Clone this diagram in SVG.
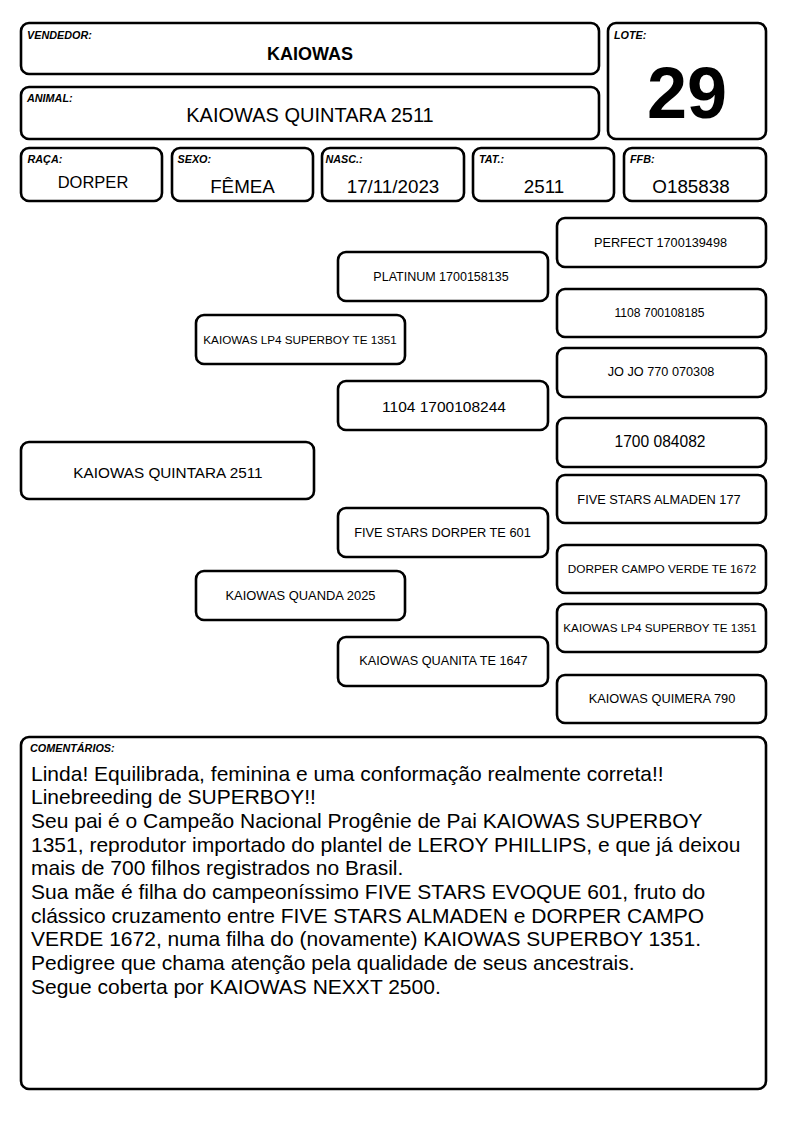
<svg xmlns="http://www.w3.org/2000/svg" width="794" height="1123" viewBox="0 0 794 1123">
<style>
.b{fill:#fff;stroke:#000;stroke-width:2.6}
.lb{font-family:"Liberation Sans",Arial,sans-serif;font-weight:bold;font-style:italic;font-size:10.8px;fill:#000}
.t{font-family:"Liberation Sans",Arial,sans-serif;fill:#000;text-anchor:middle}
.c{font-family:"Liberation Sans",Arial,sans-serif;fill:#000;font-size:21px}
</style>
<rect width="794" height="1123" fill="#fff"/>
<g id="vendedor"><rect class="b" x="21" y="23" width="578" height="51" rx="8"/><text class="lb" x="27" y="38.5">VENDEDOR:</text><text class="t" x="310" y="60" font-size="18" font-weight="bold">KAIOWAS</text></g>
<g id="animal"><rect class="b" x="21" y="87" width="578" height="52" rx="8"/><text class="lb" x="27" y="102.3">ANIMAL:</text><text class="t" x="310" y="122" font-size="20">KAIOWAS QUINTARA 2511</text></g>
<g id="lote"><rect class="b" x="608" y="23" width="158" height="116" rx="8"/><text class="lb" x="614" y="38.5">LOTE:</text><text class="t" x="687" y="118" font-size="72" font-weight="bold">29</text></g>
<g id="raca"><rect class="b" x="21" y="148" width="141" height="53" rx="8"/><text class="lb" x="27.5" y="163.3">RAÇA:</text><text class="t" x="93" y="188" font-size="16.5">DORPER</text></g>
<g id="sexo"><rect class="b" x="172" y="148" width="141" height="53" rx="8"/><text class="lb" x="177.5" y="163.3">SEXO:</text><text class="t" x="242.5" y="193.3" font-size="18.8">FÊMEA</text></g>
<g id="nasc"><rect class="b" x="322" y="148" width="142" height="53" rx="8"/><text class="lb" x="325.5" y="163.3">NASC.:</text><text class="t" x="393" y="193.3" font-size="18.8">17/11/2023</text></g>
<g id="tat"><rect class="b" x="473" y="148" width="141" height="53" rx="8"/><text class="lb" x="479" y="163.3">TAT.:</text><text class="t" x="544" y="193.3" font-size="18.8">2511</text></g>
<g id="ffb"><rect class="b" x="624" y="148" width="142" height="53" rx="8"/><text class="lb" x="630" y="163.3">FFB:</text><text class="t" x="691" y="193.3" font-size="18.8">O185838</text></g>
<g id="connectors"></g>
<g id="p-animal"><rect class="b" x="21" y="442" width="293" height="57" rx="8"/><text class="t" x="168" y="477.5" font-size="15.3">KAIOWAS QUINTARA 2511</text></g>
<g id="p-sire"><rect class="b" x="196" y="315" width="209" height="49" rx="8"/><text class="t" x="300" y="344" font-size="11.7">KAIOWAS LP4 SUPERBOY TE 1351</text></g>
<g id="p-dam"><rect class="b" x="196" y="571" width="209" height="49" rx="8"/><text class="t" x="300.5" y="600" font-size="12.9">KAIOWAS QUANDA 2025</text></g>
<g id="p-ss"><rect class="b" x="338" y="252" width="210" height="49" rx="8"/><text class="t" x="441" y="281" font-size="12.5">PLATINUM 1700158135</text></g>
<g id="p-sd"><rect class="b" x="338" y="381" width="210" height="49" rx="8"/><text class="t" x="444" y="412" font-size="15.5">1104 1700108244</text></g>
<g id="p-ds"><rect class="b" x="338" y="508" width="210" height="49" rx="8"/><text class="t" x="442.5" y="536.5" font-size="12.8">FIVE STARS DORPER TE 601</text></g>
<g id="p-dd"><rect class="b" x="338" y="637" width="210" height="49" rx="8"/><text class="t" x="443.5" y="665" font-size="12.7">KAIOWAS QUANITA TE 1647</text></g>
<g id="p-sss"><rect class="b" x="557" y="218" width="209" height="49" rx="8"/><text class="t" x="660.5" y="247" font-size="12.7">PERFECT 1700139498</text></g>
<g id="p-ssd"><rect class="b" x="557" y="289" width="209" height="48" rx="8"/><text class="t" x="659.5" y="317" font-size="12.1">1108 700108185</text></g>
<g id="p-sds"><rect class="b" x="557" y="348" width="209" height="49" rx="8"/><text class="t" x="661" y="376" font-size="12.7">JO JO 770 070308</text></g>
<g id="p-sdd"><rect class="b" x="557" y="418" width="209" height="49" rx="8"/><text class="t" x="660" y="447" font-size="15.6">1700 084082</text></g>
<g id="p-dss"><rect class="b" x="557" y="475" width="209" height="48" rx="8"/><text class="t" x="659" y="504" font-size="12.8">FIVE STARS ALMADEN 177</text></g>
<g id="p-dsd"><rect class="b" x="557" y="545" width="209" height="48" rx="8"/><text class="t" x="662" y="572.5" font-size="11.8">DORPER CAMPO VERDE TE 1672</text></g>
<g id="p-dds"><rect class="b" x="557" y="604" width="209" height="48" rx="8"/><text class="t" x="660" y="631.5" font-size="11.7">KAIOWAS LP4 SUPERBOY TE 1351</text></g>
<g id="p-ddd"><rect class="b" x="557" y="675" width="209" height="48" rx="8"/><text class="t" x="662" y="703" font-size="12.8">KAIOWAS QUIMERA 790</text></g>
<g id="comentarios"><rect class="b" x="21" y="737" width="745" height="352" rx="8"/><text class="lb" x="30" y="752">COMENTÁRIOS:</text>
<text class="c" x="31" y="780.5">Linda! Equilibrada, feminina e uma conformação realmente correta!!</text>
<text class="c" x="31" y="804.2">Linebreeding de SUPERBOY!!</text>
<text class="c" x="31" y="827.9">Seu pai é o Campeão Nacional Progênie de Pai KAIOWAS SUPERBOY</text>
<text class="c" x="31" y="851.6">1351, reprodutor importado do plantel de LEROY PHILLIPS, e que já deixou</text>
<text class="c" x="31" y="875.3">mais de 700 filhos registrados no Brasil.</text>
<text class="c" x="31" y="899">Sua mãe é filha do campeoníssimo FIVE STARS EVOQUE 601, fruto do</text>
<text class="c" x="31" y="922.7">clássico cruzamento entre FIVE STARS ALMADEN e DORPER CAMPO</text>
<text class="c" x="31" y="946.4">VERDE 1672, numa filha do (novamente) KAIOWAS SUPERBOY 1351.</text>
<text class="c" x="31" y="970.1">Pedigree que chama atenção pela qualidade de seus ancestrais.</text>
<text class="c" x="31" y="993.8">Segue coberta por KAIOWAS NEXXT 2500.</text>
</g>
</svg>
